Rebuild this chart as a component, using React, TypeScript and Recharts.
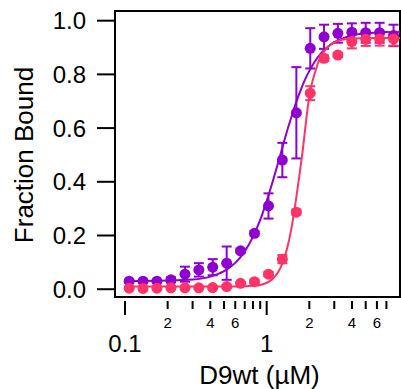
import * as React from 'react';
import {
    ComposedChart,
    Line,
    Scatter,
    ErrorBar,
    XAxis,
    YAxis,
    ReferenceArea,
} from 'recharts';

const FONT = '"Liberation Sans", Arial, Helvetica, sans-serif';
const PURPLE = '#9000d0';
const PINK = '#ff3366';

// concentrations (µM)
const conc = [0.107, 0.134, 0.168, 0.211, 0.265, 0.332, 0.416, 0.522, 0.654, 0.82, 1.03, 1.29, 1.62, 2.03, 2.54, 3.18, 3.99, 5.0, 6.27, 7.86];

const purpleY = [0.03, 0.03, 0.03, 0.035, 0.056, 0.072, 0.082, 0.097, 0.143, 0.208, 0.31, 0.481, 0.657, 0.897, 0.94, 0.953, 0.957, 0.955, 0.955, 0.945];
const purpleErr = [0.005, 0.005, 0.005, 0.01, 0.028, 0.025, 0.03, 0.062, 0.008, 0.008, 0.047, 0.064, 0.17, 0.075, 0.045, 0.035, 0.033, 0.037, 0.037, 0.04];

const pinkY = [0.004, 0.003, 0.004, 0.005, 0.005, 0.005, 0.006, 0.01, 0.022, 0.028, 0.056, 0.112, 0.287, 0.73, 0.86, 0.872, 0.922, 0.931, 0.932, 0.932];
const pinkErr = [0.004, 0.004, 0.004, 0.004, 0.004, 0.004, 0.004, 0.005, 0.005, 0.006, 0.008, 0.015, 0.01, 0.026, 0.01, 0.008, 0.025, 0.025, 0.025, 0.025];

// fitted curves
const fitX = [0.1, 0.2, 0.3, 0.4, 0.5, 0.6, 0.7, 0.8, 0.9, 1.0, 1.1, 1.2, 1.3, 1.4, 1.5, 1.6, 1.7, 1.8, 1.9, 2.0, 2.2, 2.4, 2.7, 3.0, 3.5, 4, 5, 6, 7, 8.73];
const purpleFit = [0.03, 0.032, 0.036, 0.047, 0.067, 0.098, 0.141, 0.195, 0.258, 0.328, 0.399, 0.468, 0.533, 0.593, 0.644, 0.69, 0.728, 0.762, 0.79, 0.813, 0.85, 0.876, 0.903, 0.92, 0.936, 0.945, 0.953, 0.956, 0.958, 0.959];
const pinkFit = [0.01, 0.01, 0.01, 0.01, 0.01, 0.01, 0.011, 0.013, 0.016, 0.024, 0.038, 0.062, 0.1, 0.156, 0.231, 0.323, 0.422, 0.521, 0.63, 0.72, 0.81, 0.865, 0.901, 0.919, 0.93, 0.933, 0.935, 0.935, 0.935, 0.935];

// axis ticks
const xTicks = [0.1, 0.2, 0.3, 0.4, 0.5, 0.6, 0.7, 0.8, 0.9, 1, 2, 3, 4, 5, 6, 7];
const xMajor = [0.1, 1];
const xMajorLabels = ['0.1', '1'];
const xMinorLabeled = [0.2, 0.4, 0.6, 2, 4, 6];
const xMinorLabels = ['2', '4', '6', '2', '4', '6'];
const yTicks = [0, 0.2, 0.4, 0.6, 0.8, 1.0];

const X_DOMAIN = [0.085, 8.73];
const Y_DOMAIN = [-0.029, 1.036];

const purpleData = conc.map((x, i) => ({ x, y: purpleY[i], err: purpleErr[i] }));
const pinkData = conc.map((x, i) => ({ x, y: pinkY[i], err: pinkErr[i] }));
const purpleFitData = fitX.map((x, i) => ({ x, y: purpleFit[i] }));
const pinkFitData = fitX.map((x, i) => ({ x, y: pinkFit[i] }));

function XTick(props: any) {
    const { x, y, payload } = props;
    const v = payload.value;
    const mi = xMajor.indexOf(v);
    const li = xMinorLabeled.indexOf(v);
    return (
        <g>
            <line x1={x} x2={x} y1={y + 4} y2={y + (mi >= 0 ? 18 : 12)} stroke="#000" strokeWidth={2} />
            {mi >= 0 && (
                <text x={x} y={y + 55} textAnchor="middle" fontSize={24} fontFamily={FONT} fill="#000">
                    {xMajorLabels[mi]}
                </text>
            )}
            {li >= 0 && (
                <text x={x} y={y + 31} textAnchor="middle" fontSize={15} fontFamily={FONT} fill="#000">
                    {xMinorLabels[li]}
                </text>
            )}
        </g>
    );
}

function XLabel(props: any) {
    const vb = props.viewBox;
    return (
        <text x={vb.x + vb.width / 2 + 2} y={vb.y + 87} textAnchor="middle" fontSize={26} fontFamily={FONT} fill="#000">
            D9wt (µM)
        </text>
    );
}

function YLabel(props: any) {
    const vb = props.viewBox;
    const cy = vb.y + vb.height / 2 + 1;
    const cx = 33;
    return (
        <text x={cx} y={cy} transform={`rotate(-90 ${cx} ${cy})`} textAnchor="middle" fontSize={26} fontFamily={FONT} fill="#000">
            Fraction Bound
        </text>
    );
}

const dot = (color: string) => (p: any) => <circle cx={p.cx} cy={p.cy} r={5.5} fill={color} />;

export default function App() {
    return (
        <div style={{ position: 'absolute', left: 0, top: 0, background: '#fff', fontFamily: FONT }}>
            <ComposedChart
                width={401}
                height={389}
                margin={{ top: 11, right: 1, left: 0, bottom: 0 }}
            >
                <XAxis
                    dataKey="x"
                    type="number"
                    scale="log"
                    domain={X_DOMAIN}
                    allowDataOverflow
                    ticks={xTicks}
                    interval={0}
                    height={92}
                    axisLine={false}
                    tickLine={false}
                    tickSize={0}
                    tickMargin={0}
                    tick={<XTick />}
                    label={<XLabel />}
                />
                <YAxis
                    type="number"
                    domain={Y_DOMAIN}
                    allowDataOverflow
                    ticks={yTicks}
                    width={115}
                    axisLine={false}
                    tickSize={18}
                    tickMargin={11}
                    tickLine={{ stroke: '#000', strokeWidth: 2 }}
                    tick={{ fill: '#000', fontSize: 24, fontFamily: FONT }}
                    tickFormatter={(v: number) => v.toFixed(1)}
                    label={<YLabel />}
                />
                <Line data={purpleFitData} dataKey="y" type="monotone" stroke={PURPLE} strokeWidth={2} dot={false} isAnimationActive={false} />
                <Scatter data={purpleData} dataKey="y" fill={PURPLE} shape={dot(PURPLE)} isAnimationActive={false}>
                    <ErrorBar dataKey="err" direction="y" width={5} stroke={PURPLE} strokeWidth={2} />
                </Scatter>
                <Line data={pinkFitData} dataKey="y" type="monotone" stroke={PINK} strokeWidth={2} dot={false} isAnimationActive={false} />
                <Scatter data={pinkData} dataKey="y" fill={PINK} shape={dot(PINK)} isAnimationActive={false}>
                    <ErrorBar dataKey="err" direction="y" width={5} stroke={PINK} strokeWidth={2} />
                </Scatter>
                <ReferenceArea
                    x1={X_DOMAIN[0]}
                    x2={X_DOMAIN[1]}
                    y1={Y_DOMAIN[0]}
                    y2={Y_DOMAIN[1]}
                    fill="none"
                    stroke="#000"
                    strokeWidth={2}
                    ifOverflow="visible"
                />
            </ComposedChart>
        </div>
    );
}
